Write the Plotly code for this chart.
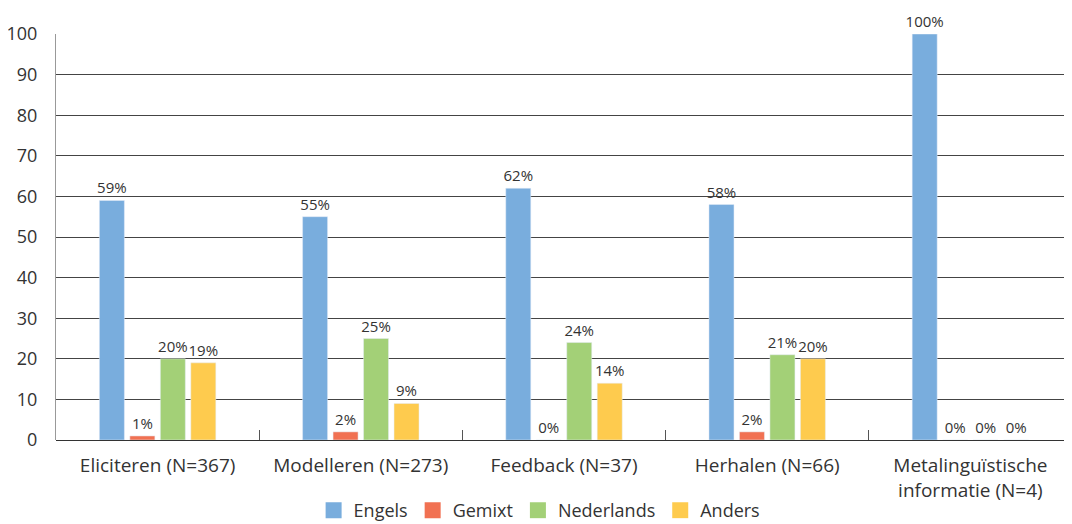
import plotly.graph_objects as go

categories = ["Eliciteren (N=367)", "Modelleren (N=273)", "Feedback (N=37)",
              "Herhalen (N=66)", "Metalinguïstische<br>informatie (N=4)"]
series_names = ["Engels", "Gemixt", "Nederlands", "Anders"]
engels = [59, 55, 62, 58, 100]
gemixt = [1, 2, 0, 2, 0]
nederlands = [20, 25, 24, 21, 0]
anders = [19, 9, 14, 20, 0]
colors = ["#79ADDD", "#F17152", "#A3D077", "#FECB4E"]

FONT = "Open Sans, sans-serif"
fig = go.Figure()
for name, vals, col in zip(series_names, [engels, gemixt, nederlands, anders], colors):
    fig.add_trace(go.Bar(
        x=categories, y=vals, name=name, marker_color=col, legendgroup=name,
        showlegend=False,
        text=[f"{v}%" for v in vals], textposition="outside",
        constraintext="none",
        textfont=dict(size=15, color="#333333"), cliponaxis=False,
    ))
# legend entries with larger square swatches
for name, col in zip(series_names, colors):
    fig.add_trace(go.Scatter(
        x=[None], y=[None], mode="markers", name=name, legendgroup=name,
        marker=dict(symbol="square", size=16, color=col),
    ))

fig.update_layout(
    width=1064, height=516,
    margin=dict(l=48, r=0, t=26, b=84, autoexpand=False),
    paper_bgcolor="white", plot_bgcolor="white",
    font=dict(family=FONT, size=17, color="#333333"),
    barmode="group", bargap=0.4, bargroupgap=0.18,
    showlegend=True,
    legend=dict(orientation="h", x=0.476, xanchor="center", y=-0.128, yanchor="top",
                font=dict(size=18), traceorder="normal", itemwidth=30),
    xaxis=dict(tickson="boundaries", ticks="inside", ticklen=10, tickcolor="#555",
               showline=False, tickfont=dict(size=19), ticklabelstandoff=12,
               automargin=False),
    yaxis=dict(range=[0, 100], dtick=10, showgrid=True, gridcolor="#444", gridwidth=1,
               zeroline=True, zerolinecolor="#333", zerolinewidth=1,
               showline=True, linecolor="#999", linewidth=1,
               ticks="", tickfont=dict(size=18), ticklabelstandoff=14,
               automargin=False),
)

fig.write_html("out.html")
